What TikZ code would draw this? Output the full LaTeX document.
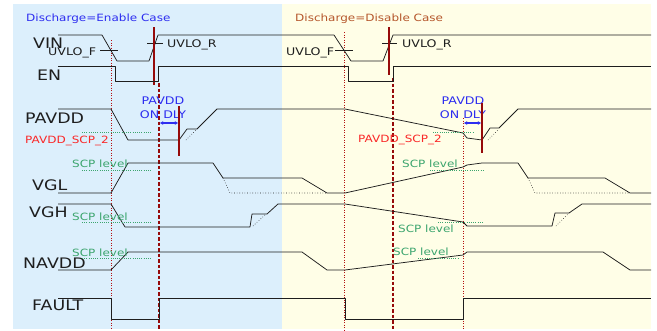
\documentclass[tikz,border=0pt]{standalone}
\usepackage{fontspec}
\setmainfont{DejaVu Sans}[FakeStretch=1.2]
\usetikzlibrary{arrows.meta}
\definecolor{bgblue}{RGB}{220,239,252}
\definecolor{bgyellow}{RGB}{255,254,231}
\definecolor{txtblue}{RGB}{45,45,240}
\definecolor{txtbrown}{RGB}{181,86,43}
\definecolor{txtred}{RGB}{250,40,40}
\definecolor{scpgreen}{RGB}{60,165,110}
\definecolor{mkred}{RGB}{150,10,10}
\definecolor{dotred}{RGB}{180,15,15}
\definecolor{sig}{RGB}{30,30,30}
\tikzset{
  wave/.style={draw=sig, line width=0.75pt, line join=round},
  ghost/.style={draw=sig, line width=0.6pt, dotted},
  lbl/.style={anchor=base west, inner sep=0pt, font=\fontsize{14.5}{15}\selectfont, text=sig},
  small/.style={anchor=base west, inner sep=0pt, font=\fontsize{10.5}{11}\selectfont, text=sig},
  scp/.style={anchor=base west, inner sep=0pt, font=\fontsize{10}{11}\selectfont, text=scpgreen},
  scpline/.style={draw=scpgreen, line width=0.8pt, dash pattern=on 1pt off 1.2pt},
  redtxt/.style={anchor=base west, inner sep=0pt, font=\fontsize{10}{11}\selectfont, text=txtred},
  dly/.style={anchor=base, inner sep=0pt, font=\fontsize{10.5}{11}\selectfont, text=txtblue},
  marker/.style={draw=mkred, line width=1.4pt},
  dashmark/.style={draw=mkred, line width=1.4pt, dash pattern=on 3.5pt off 2pt},
  dotmark/.style={draw=dotred, line width=0.8pt, dash pattern=on 1pt off 1.5pt},
  tick/.style={draw=sig, line width=0.7pt},
  dlyarrow/.style={draw=txtblue, line width=1.2pt, {Latex[length=3.5pt,width=4pt]}-{Latex[length=3.5pt,width=4pt]}}
}
\begin{document}
\begin{tikzpicture}[x=1pt,y=-1pt]
\useasboundingbox (0,0) rectangle (657,330);
% panels
\fill[bgblue] (13,4) rectangle (282,329);
\fill[bgyellow] (282,4) rectangle (651,329);
% headers
\node[anchor=base west, inner sep=0pt, font=\fontsize{10}{11}\selectfont, text=txtblue] (hdrA) at (26,21) {Discharge=Enable Case};
\node[anchor=base west, inner sep=0pt, font=\fontsize{10}{11}\selectfont, text=txtbrown] (hdrB) at (295,21.5) {Discharge=Disable Case};
% vertical markers
\draw[dotmark] (111,40) coordinate (dA1) -- (111,330) coordinate (dA2);
\draw[dotmark] (344,32) coordinate (dB1) -- (344,330) coordinate (dB2);
\draw[dotmark] (463,118) coordinate (dC1) -- (463,330) coordinate (dC2);
\draw[dashmark] (159,83) coordinate (eA1) -- (159,330) coordinate (eA2);
\draw[dashmark] (393,78) coordinate (eB1) -- (393,330) coordinate (eB2);
% signal labels
\node[lbl] (lVIN) at (33,48.3) {VIN};
\node[lbl] (lEN) at (37,80) {EN};
\node[lbl] (lPAVDD) at (25,123) {PAVDD};
\node[lbl] (lVGL) at (32,190.7) {VGL};
\node[lbl] (lVGH) at (29,217.5) {VGH};
\node[lbl] (lNAVDD) at (23,268) {NAVDD};
\node[lbl] (lFAULT) at (32,310.5) {FAULT};
% VIN
\draw[wave] (58,35) -- (102,35) -- (117,61) -- (149,61) -- (158,35) -- (334,35) -- (351,61) -- (383,61) -- (393,35) -- (651,35);
\draw[tick] (100,50) -- (118,50);
\draw[tick] (335,50) -- (353,50);
\draw[tick] (147,43) -- (163,43);
\draw[tick] (382,43) -- (397,43);
\node[small] (uvfA) at (48,55) {UVLO\_F};
\node[small] (uvfB) at (286,55) {UVLO\_F};
\node[small] (uvrA) at (167,47) {UVLO\_R};
\node[small] (uvrB) at (402,47) {UVLO\_R};
\draw[marker] (154,27) -- (154,85);
\draw[marker] (389,27) -- (389,75);
% EN
\draw[wave] (58,66) -- (115,66) -- (115,81) -- (158,81) -- (158,66) -- (348,66) -- (348,81) -- (393,81) -- (393,66) -- (651,66);
% PAVDD
\draw[wave] (58,109) -- (111,109) -- (128,140) -- (179,140) -- (187,129) -- (197,129) -- (217,109) -- (345,109) -- (463,133) -- (467,138) -- (482,140) -- (490,128) -- (499,128) -- (518,109) -- (651,109);
\draw[ghost] (186,140) -- (197,129);
\draw[ghost] (488,140) -- (499,129);
\draw[scpline] (82,132) -- (152,132);
\draw[scpline] (433,132) -- (473,132);
\node[redtxt] (scp2A) at (25,143) {PAVDD\_SCP\_2};
\node[redtxt] (scp2B) at (358,142) {PAVDD\_SCP\_2};
\node[dly] (dlyA1) at (163,104) {PAVDD};
\node[dly] (dlyA2) at (163,118) {ON DLY};
\node[dly] (dlyB1) at (463,104) {PAVDD};
\node[dly] (dlyB2) at (463,118) {ON DLY};
\draw[marker] (179,106) -- (179,156);
\draw[marker] (482,103) -- (482,153);
\draw[dlyarrow] (159.7,123) -- (178.3,123);
\draw[dlyarrow] (463.7,123) -- (481.3,123);
% VGL
\draw[wave] (58,193) -- (111,193) -- (128,163) -- (213,163) -- (223,178) -- (302,178) -- (327,193) -- (345,193) -- (463,167) -- (467,165) -- (482,163) -- (518,163) -- (528,178) -- (605,178) -- (630,193) -- (651,193);
\draw[ghost] (223,178) -- (230,193) -- (327,193);
\draw[ghost] (528,178) -- (535,193) -- (630,193);
\draw[scpline] (82,170) -- (152,170);
\draw[scpline] (430,170) -- (485,170);
\node[scp] (scpA1) at (72,167) {SCP level};
\node[scp] (scpB1) at (402,167) {SCP level};
% VGH
\draw[wave] (58,204) -- (111,204) -- (125,227) -- (250,227) -- (252,214) -- (267,214) -- (278,204) -- (345,204) -- (463,222) -- (467,226) -- (552,226) -- (555,213) -- (569,213) -- (582,204) -- (651,204);
\draw[ghost] (253,226) -- (266,214);
\draw[ghost] (556,226) -- (569,213);
\draw[scpline] (82,222) -- (152,222);
\draw[scpline] (438,222) -- (483,222);
\node[scp] (scpA2) at (72,220) {SCP level};
\node[scp] (scpB2) at (398,232.5) {SCP level};
% NAVDD
\draw[wave] (58,270) -- (111,270) -- (128,252) -- (302,252) -- (327,270) -- (345,270) -- (463,255) -- (467,252) -- (483,252) -- (603,252) -- (630,270) -- (651,270);
\draw[scpline] (82,258) -- (152,258);
\draw[scpline] (418,258) -- (458,258);
\node[scp] (scpA3) at (72,256) {SCP level};
\node[scp] (scpB3) at (393,255) {SCP level};
% FAULT
\draw[wave] (58,298) -- (111,298) -- (111,319) -- (159,319) -- (159,298) -- (345,298) -- (345,319) -- (463,319) -- (463,298) -- (651,298);
\end{tikzpicture}
\end{document}
